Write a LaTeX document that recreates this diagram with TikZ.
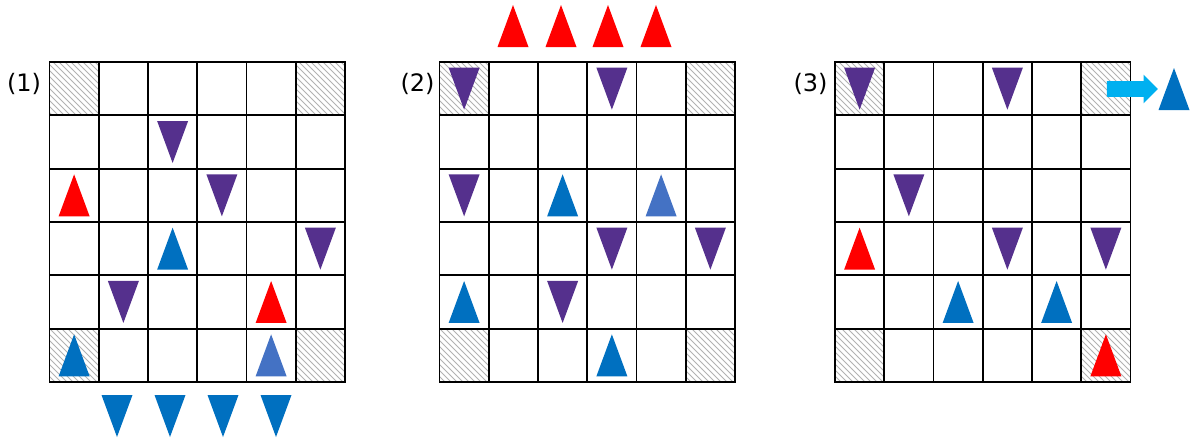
\documentclass[tikz,border=0pt]{standalone}
\usepackage{fontspec}
\setmainfont{DejaVu Sans}
\usetikzlibrary{patterns,shapes.arrows}

\definecolor{tripurple}{HTML}{55308D}
\definecolor{trired}{HTML}{FF0000}
\definecolor{triblue}{HTML}{0070C0}
\definecolor{trilight}{HTML}{4472C4}
\definecolor{movecyan}{HTML}{00B0F0}

\begin{document}
\begin{tikzpicture}[
  x=0.5pt, y=-0.5pt,
  cell/.style={draw, line width=0.9pt, minimum width=24.625pt, minimum height=26.667pt, inner sep=0pt, outer sep=0pt},
  corner0/.style={},
  corner1/.style={pattern=north west lines, pattern color=gray!60},
  tag/.style={font=\fontsize{12}{14}\selectfont, inner sep=0pt},
  blockarrow/.style={single arrow, fill=movecyan, inner sep=3.75pt, minimum height=25.5pt, single arrow head extend=3.25pt},
  pics/tri up/.style={code={\fill[#1] (-15.5,21) -- (15.5,21) -- (0,-21) -- cycle;}},
  pics/tri down/.style={code={\fill[#1] (-15.5,-21) -- (15.5,-21) -- (0,21) -- cycle;}}
]
\useasboundingbox (0,0) rectangle (1190,441);

% Boards
\foreach \g/\ox in {1/49.5, 2/439.5, 3/835} {
  \foreach \r in {0,...,5} {
    \foreach \c in {0,...,5} {
      \pgfmathtruncatemacro\edge{((\r==0)||(\r==5))&&((\c==0)||(\c==5))}
      \node[cell, corner\edge] (g\g-\r\c) at ({\ox+(\c+0.5)*49.25},{62+(\r+0.5)*53.33}) {};
    }
  }
}

% Labels
\node[tag] (lbl1) at (24,84) {(1)};
\node[tag] (lbl2) at (417.5,84) {(2)};
\node[tag] (lbl3) at (810.5,84) {(3)};

% Pieces on the boards
\foreach \p in {g1-12, g1-23, g1-35, g1-41, g2-00, g2-03, g2-20, g2-33, g2-35, g2-42, g3-00, g3-03, g3-21, g3-33, g3-35}
  \pic at (\p) {tri down=tripurple};
\foreach \p in {g1-20, g1-44, g3-30, g3-55}
  \pic at (\p) {tri up=trired};
\foreach \p in {g1-32, g1-50, g2-22, g2-40, g2-53, g3-42, g3-44}
  \pic at (\p) {tri up=triblue};
\foreach \p in {g1-54, g2-24}
  \pic at (\p) {tri up=trilight};

% Pieces off the boards
\foreach \x in {117,170,223,276}
  \pic at (\x,416) {tri down=triblue};
\foreach \x in {513,561,608,656}
  \pic at (\x,26) {tri up=trired};

\node[blockarrow] (exit) at (1128.5,89) {};
\pic at (1174,89) {tri up=triblue};

\end{tikzpicture}
\end{document}
